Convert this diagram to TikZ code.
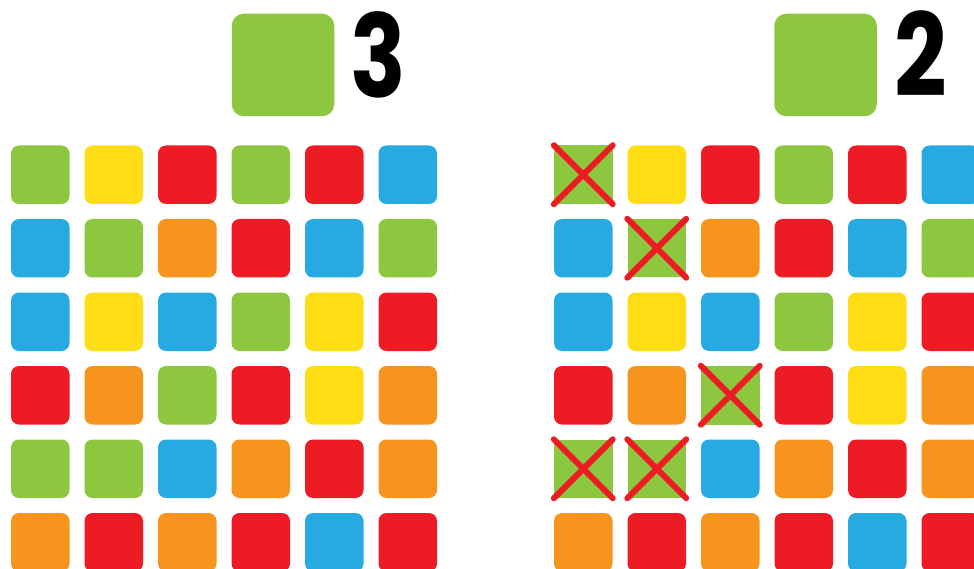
\documentclass[tikz,border=0pt]{standalone}
\usepackage{fontspec}
\newfontfamily\numfont{Poppins}
\definecolor{cG}{HTML}{8DC63F}
\definecolor{cY}{HTML}{FFDD15}
\definecolor{cR}{HTML}{ED1C24}
\definecolor{cB}{HTML}{27AAE1}
\definecolor{cO}{HTML}{F7941D}
\begin{document}
\begin{tikzpicture}[x=1pt,y=-1pt,
  tile/.style={rectangle, inner sep=0pt, minimum width=58.5pt, minimum height=58.5pt, rounded corners=8pt},
  tG/.style={tile, fill=cG},
  tY/.style={tile, fill=cY},
  tR/.style={tile, fill=cR},
  tB/.style={tile, fill=cB},
  tO/.style={tile, fill=cO},
  tX/.style={tile, fill=cG, sharp corners},
  big/.style={rectangle, inner sep=0pt, minimum size=102.5pt, rounded corners=12pt, fill=cG},
  num/.style={font=\numfont\bfseries\fontsize{115}{115}\selectfont, inner sep=0pt, transform shape, xscale=0.8},
  cross/.style={draw=cR, line width=6pt, line cap=round}]
\useasboundingbox (0,0) rectangle (974,569);
% left grid
\foreach \row [count=\j from 0] in {{G,Y,R,G,R,B},{B,G,O,R,B,G},{B,Y,B,G,Y,R},{R,O,G,R,Y,O},{G,G,B,O,R,O},{O,R,O,R,B,R}} {
  \foreach \c [count=\i from 0] in \row {
    \node[t\c] (L\j\i) at ({40.25+73.5*\i},{174.75+73.5*\j}) {};
  }
}
% right grid
\foreach \row [count=\j from 0] in {{X,Y,R,G,R,B},{B,X,O,R,B,G},{B,Y,B,G,Y,R},{R,O,X,R,Y,O},{X,X,B,O,R,O},{O,R,O,R,B,R}} {
  \foreach \c [count=\i from 0] in \row {
    \node[t\c] (R\j\i) at ({583.25+73.5*\i},{174.75+73.5*\j}) {};
  }
}
\foreach \n in {R00,R11,R32,R40,R41} {
  \draw[cross] (\n.north west) -- (\n.south east) (\n.north east) -- (\n.south west);
}
% headers
\node[big] (bigL) at (283,65) {};
\node[big] (bigR) at (825.5,65) {};
\node[num] (numL) at (378,55) {3};
\node[num] (numR) at (921,53.5) {2};
\end{tikzpicture}
\end{document}
